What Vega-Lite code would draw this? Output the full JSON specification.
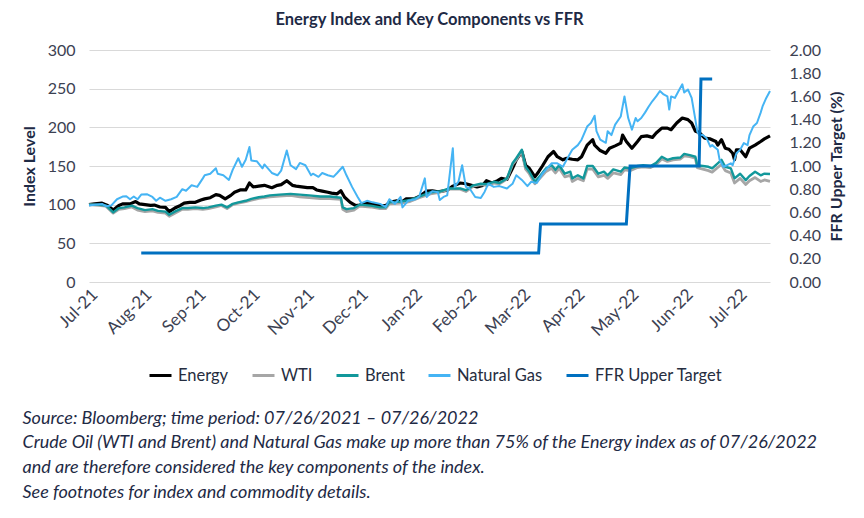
{
"$schema": "https://vega.github.io/schema/vega-lite/v6.json",
"width": 681, "height": 232,
"autosize": {"type": "none"},
"padding": {"left": 89, "top": 50, "right": 94, "bottom": 236},
"background": "white",
"config": {"font": "Lato", "view": {"stroke": null}},
"title": {"text": "Energy Index and Key Components  vs FFR", "font": "Lato", "fontSize": 16.5, "fontWeight": "bold", "color": "#1e2a45", "anchor": "middle", "frame": "group", "baseline": "bottom", "offset": -2},
"datasets": {
"index": [
{"date":"2021-07-26","series":"Energy","value":100},{"date":"2021-07-29","series":"Energy","value":101},{"date":"2021-08-02","series":"Energy","value":102},{"date":"2021-08-05","series":"Energy","value":99},{"date":"2021-08-08","series":"Energy","value":93},{"date":"2021-08-11","series":"Energy","value":99},{"date":"2021-08-13","series":"Energy","value":101},{"date":"2021-08-17","series":"Energy","value":101},{"date":"2021-08-20","series":"Energy","value":104},{"date":"2021-08-22","series":"Energy","value":101},{"date":"2021-08-25","series":"Energy","value":100},{"date":"2021-08-28","series":"Energy","value":99},{"date":"2021-08-30","series":"Energy","value":99.5},{"date":"2021-09-02","series":"Energy","value":97},{"date":"2021-09-05","series":"Energy","value":96.5},{"date":"2021-09-07","series":"Energy","value":91},{"date":"2021-09-10","series":"Energy","value":95.6},{"date":"2021-09-13","series":"Energy","value":99},{"date":"2021-09-15","series":"Energy","value":102},{"date":"2021-09-18","series":"Energy","value":103},{"date":"2021-09-21","series":"Energy","value":103},{"date":"2021-09-24","series":"Energy","value":106},{"date":"2021-09-26","series":"Energy","value":107.5},{"date":"2021-09-29","series":"Energy","value":109},{"date":"2021-10-02","series":"Energy","value":113},{"date":"2021-10-04","series":"Energy","value":112},{"date":"2021-10-07","series":"Energy","value":107.5},{"date":"2021-10-10","series":"Energy","value":112},{"date":"2021-10-12","series":"Energy","value":116},{"date":"2021-10-15","series":"Energy","value":119},{"date":"2021-10-18","series":"Energy","value":119},{"date":"2021-10-20","series":"Energy","value":128},{"date":"2021-10-22","series":"Energy","value":123},{"date":"2021-10-25","series":"Energy","value":124},{"date":"2021-10-28","series":"Energy","value":125},{"date":"2021-11-01","series":"Energy","value":122},{"date":"2021-11-04","series":"Energy","value":125},{"date":"2021-11-06","series":"Energy","value":126},{"date":"2021-11-09","series":"Energy","value":131},{"date":"2021-11-12","series":"Energy","value":125},{"date":"2021-11-14","series":"Energy","value":124},{"date":"2021-11-17","series":"Energy","value":123},{"date":"2021-11-20","series":"Energy","value":122},{"date":"2021-11-23","series":"Energy","value":122},{"date":"2021-11-25","series":"Energy","value":119},{"date":"2021-11-28","series":"Energy","value":117.5},{"date":"2021-12-01","series":"Energy","value":116},{"date":"2021-12-03","series":"Energy","value":115},{"date":"2021-12-06","series":"Energy","value":114},{"date":"2021-12-08","series":"Energy","value":118},{"date":"2021-12-10","series":"Energy","value":109.6},{"date":"2021-12-13","series":"Energy","value":103},{"date":"2021-12-16","series":"Energy","value":98.7},{"date":"2021-12-18","series":"Energy","value":99.5},{"date":"2021-12-22","series":"Energy","value":101.8},{"date":"2021-12-25","series":"Energy","value":101},{"date":"2021-12-29","series":"Energy","value":98.7},{"date":"2022-01-01","series":"Energy","value":98.7},{"date":"2022-01-03","series":"Energy","value":103},{"date":"2022-01-07","series":"Energy","value":105},{"date":"2022-01-10","series":"Energy","value":104},{"date":"2022-01-12","series":"Energy","value":107.5},{"date":"2022-01-16","series":"Energy","value":107.5},{"date":"2022-01-19","series":"Energy","value":110.5},{"date":"2022-01-23","series":"Energy","value":117.5},{"date":"2022-01-26","series":"Energy","value":118},{"date":"2022-01-29","series":"Energy","value":116.5},{"date":"2022-02-03","series":"Energy","value":118.7},{"date":"2022-02-06","series":"Energy","value":124},{"date":"2022-02-10","series":"Energy","value":128},{"date":"2022-02-13","series":"Energy","value":127},{"date":"2022-02-16","series":"Energy","value":125},{"date":"2022-02-19","series":"Energy","value":123},{"date":"2022-02-22","series":"Energy","value":125},{"date":"2022-02-24","series":"Energy","value":131},{"date":"2022-02-27","series":"Energy","value":128},{"date":"2022-03-02","series":"Energy","value":131},{"date":"2022-03-04","series":"Energy","value":134},{"date":"2022-03-07","series":"Energy","value":132.6},{"date":"2022-03-10","series":"Energy","value":147},{"date":"2022-03-12","series":"Energy","value":158},{"date":"2022-03-15","series":"Energy","value":168.7},{"date":"2022-03-17","series":"Energy","value":151},{"date":"2022-03-19","series":"Energy","value":147},{"date":"2022-03-22","series":"Energy","value":136},{"date":"2022-03-24","series":"Energy","value":142.6},{"date":"2022-03-26","series":"Energy","value":150},{"date":"2022-03-29","series":"Energy","value":162},{"date":"2022-04-01","series":"Energy","value":168.7},{"date":"2022-04-03","series":"Energy","value":162},{"date":"2022-04-06","series":"Energy","value":158},{"date":"2022-04-08","series":"Energy","value":160},{"date":"2022-04-11","series":"Energy","value":158.7},{"date":"2022-04-14","series":"Energy","value":158},{"date":"2022-04-16","series":"Energy","value":162},{"date":"2022-04-19","series":"Energy","value":177},{"date":"2022-04-22","series":"Energy","value":184},{"date":"2022-04-23","series":"Energy","value":177},{"date":"2022-04-26","series":"Energy","value":170},{"date":"2022-04-29","series":"Energy","value":166.5},{"date":"2022-05-01","series":"Energy","value":173},{"date":"2022-05-04","series":"Energy","value":176},{"date":"2022-05-07","series":"Energy","value":179.6},{"date":"2022-05-08","series":"Energy","value":190},{"date":"2022-05-10","series":"Energy","value":181.7},{"date":"2022-05-13","series":"Energy","value":173},{"date":"2022-05-16","series":"Energy","value":181.7},{"date":"2022-05-18","series":"Energy","value":188},{"date":"2022-05-21","series":"Energy","value":189},{"date":"2022-05-24","series":"Energy","value":187},{"date":"2022-05-26","series":"Energy","value":192.6},{"date":"2022-05-29","series":"Energy","value":199},{"date":"2022-06-01","series":"Energy","value":199},{"date":"2022-06-03","series":"Energy","value":197},{"date":"2022-06-06","series":"Energy","value":205.6},{"date":"2022-06-09","series":"Energy","value":212},{"date":"2022-06-12","series":"Energy","value":210},{"date":"2022-06-14","series":"Energy","value":205.6},{"date":"2022-06-16","series":"Energy","value":195},{"date":"2022-06-18","series":"Energy","value":193.5},{"date":"2022-06-21","series":"Energy","value":186},{"date":"2022-06-24","series":"Energy","value":185},{"date":"2022-06-27","series":"Energy","value":181.7},{"date":"2022-06-28","series":"Energy","value":177},{"date":"2022-06-30","series":"Energy","value":184},{"date":"2022-07-02","series":"Energy","value":173},{"date":"2022-07-04","series":"Energy","value":171.7},{"date":"2022-07-06","series":"Energy","value":166.5},{"date":"2022-07-07","series":"Energy","value":158},{"date":"2022-07-08","series":"Energy","value":171},{"date":"2022-07-10","series":"Energy","value":171},{"date":"2022-07-13","series":"Energy","value":162},{"date":"2022-07-15","series":"Energy","value":173},{"date":"2022-07-18","series":"Energy","value":177},{"date":"2022-07-21","series":"Energy","value":181.7},{"date":"2022-07-23","series":"Energy","value":185},{"date":"2022-07-26","series":"Energy","value":189},
{"date":"2021-07-26","series":"WTI","value":100},{"date":"2021-07-31","series":"WTI","value":99},{"date":"2021-08-04","series":"WTI","value":98},{"date":"2021-08-08","series":"WTI","value":89},{"date":"2021-08-11","series":"WTI","value":94},{"date":"2021-08-14","series":"WTI","value":95},{"date":"2021-08-18","series":"WTI","value":97},{"date":"2021-08-21","series":"WTI","value":93},{"date":"2021-08-25","series":"WTI","value":91},{"date":"2021-08-29","series":"WTI","value":92},{"date":"2021-09-01","series":"WTI","value":90},{"date":"2021-09-05","series":"WTI","value":89},{"date":"2021-09-07","series":"WTI","value":85},{"date":"2021-09-10","series":"WTI","value":89},{"date":"2021-09-14","series":"WTI","value":94},{"date":"2021-09-17","series":"WTI","value":94},{"date":"2021-09-21","series":"WTI","value":95},{"date":"2021-09-25","series":"WTI","value":94},{"date":"2021-09-28","series":"WTI","value":95},{"date":"2021-10-02","series":"WTI","value":97},{"date":"2021-10-05","series":"WTI","value":99},{"date":"2021-10-08","series":"WTI","value":95},{"date":"2021-10-11","series":"WTI","value":100},{"date":"2021-10-14","series":"WTI","value":102},{"date":"2021-10-18","series":"WTI","value":104},{"date":"2021-10-21","series":"WTI","value":106},{"date":"2021-10-25","series":"WTI","value":108},{"date":"2021-10-28","series":"WTI","value":109},{"date":"2021-10-31","series":"WTI","value":110},{"date":"2021-11-05","series":"WTI","value":111},{"date":"2021-11-11","series":"WTI","value":112},{"date":"2021-11-16","series":"WTI","value":110},{"date":"2021-11-21","series":"WTI","value":109},{"date":"2021-11-27","series":"WTI","value":108},{"date":"2021-12-02","series":"WTI","value":108},{"date":"2021-12-08","series":"WTI","value":107},{"date":"2021-12-09","series":"WTI","value":94},{"date":"2021-12-11","series":"WTI","value":91},{"date":"2021-12-15","series":"WTI","value":93},{"date":"2021-12-18","series":"WTI","value":98},{"date":"2021-12-24","series":"WTI","value":97},{"date":"2021-12-29","series":"WTI","value":95},{"date":"2022-01-01","series":"WTI","value":95},{"date":"2022-01-03","series":"WTI","value":101},{"date":"2022-01-09","series":"WTI","value":102},{"date":"2022-01-14","series":"WTI","value":104},{"date":"2022-01-19","series":"WTI","value":109},{"date":"2022-01-25","series":"WTI","value":114},{"date":"2022-01-30","series":"WTI","value":116},{"date":"2022-02-04","series":"WTI","value":120},{"date":"2022-02-10","series":"WTI","value":120},{"date":"2022-02-13","series":"WTI","value":117},{"date":"2022-02-17","series":"WTI","value":124},{"date":"2022-02-21","series":"WTI","value":126},{"date":"2022-02-24","series":"WTI","value":125},{"date":"2022-02-28","series":"WTI","value":128},{"date":"2022-03-03","series":"WTI","value":127},{"date":"2022-03-07","series":"WTI","value":133},{"date":"2022-03-10","series":"WTI","value":152},{"date":"2022-03-12","series":"WTI","value":158},{"date":"2022-03-15","series":"WTI","value":169},{"date":"2022-03-17","series":"WTI","value":146},{"date":"2022-03-19","series":"WTI","value":140},{"date":"2022-03-22","series":"WTI","value":127},{"date":"2022-03-25","series":"WTI","value":135},{"date":"2022-03-28","series":"WTI","value":143},{"date":"2022-03-31","series":"WTI","value":147},{"date":"2022-04-02","series":"WTI","value":141},{"date":"2022-04-04","series":"WTI","value":147},{"date":"2022-04-07","series":"WTI","value":136},{"date":"2022-04-10","series":"WTI","value":138},{"date":"2022-04-11","series":"WTI","value":130},{"date":"2022-04-14","series":"WTI","value":134},{"date":"2022-04-17","series":"WTI","value":131},{"date":"2022-04-19","series":"WTI","value":146},{"date":"2022-04-22","series":"WTI","value":146},{"date":"2022-04-25","series":"WTI","value":136},{"date":"2022-04-28","series":"WTI","value":138},{"date":"2022-04-30","series":"WTI","value":134},{"date":"2022-05-03","series":"WTI","value":141},{"date":"2022-05-07","series":"WTI","value":139},{"date":"2022-05-09","series":"WTI","value":145},{"date":"2022-05-12","series":"WTI","value":144},{"date":"2022-05-16","series":"WTI","value":148},{"date":"2022-05-19","series":"WTI","value":149},{"date":"2022-05-23","series":"WTI","value":148},{"date":"2022-05-26","series":"WTI","value":152},{"date":"2022-05-29","series":"WTI","value":159},{"date":"2022-06-01","series":"WTI","value":156},{"date":"2022-06-04","series":"WTI","value":158},{"date":"2022-06-08","series":"WTI","value":159},{"date":"2022-06-10","series":"WTI","value":163},{"date":"2022-06-13","series":"WTI","value":162},{"date":"2022-06-16","series":"WTI","value":160},{"date":"2022-06-17","series":"WTI","value":148},{"date":"2022-06-20","series":"WTI","value":146},{"date":"2022-06-23","series":"WTI","value":144},{"date":"2022-06-25","series":"WTI","value":142},{"date":"2022-06-28","series":"WTI","value":148},{"date":"2022-06-30","series":"WTI","value":152},{"date":"2022-07-02","series":"WTI","value":144},{"date":"2022-07-05","series":"WTI","value":141},{"date":"2022-07-07","series":"WTI","value":128},{"date":"2022-07-10","series":"WTI","value":134},{"date":"2022-07-13","series":"WTI","value":126},{"date":"2022-07-15","series":"WTI","value":131},{"date":"2022-07-18","series":"WTI","value":135},{"date":"2022-07-21","series":"WTI","value":130},{"date":"2022-07-23","series":"WTI","value":132},{"date":"2022-07-26","series":"WTI","value":130},
{"date":"2021-07-26","series":"Brent","value":100},{"date":"2021-07-31","series":"Brent","value":100},{"date":"2021-08-04","series":"Brent","value":99},{"date":"2021-08-08","series":"Brent","value":90},{"date":"2021-08-11","series":"Brent","value":95.6},{"date":"2021-08-14","series":"Brent","value":96.5},{"date":"2021-08-18","series":"Brent","value":98.7},{"date":"2021-08-21","series":"Brent","value":95.6},{"date":"2021-08-25","series":"Brent","value":93},{"date":"2021-08-29","series":"Brent","value":94.3},{"date":"2021-09-01","series":"Brent","value":92},{"date":"2021-09-05","series":"Brent","value":91},{"date":"2021-09-07","series":"Brent","value":87},{"date":"2021-09-10","series":"Brent","value":91},{"date":"2021-09-14","series":"Brent","value":95.6},{"date":"2021-09-17","series":"Brent","value":95.6},{"date":"2021-09-21","series":"Brent","value":96.5},{"date":"2021-09-25","series":"Brent","value":95.6},{"date":"2021-09-28","series":"Brent","value":96.5},{"date":"2021-10-02","series":"Brent","value":98.7},{"date":"2021-10-05","series":"Brent","value":100},{"date":"2021-10-08","series":"Brent","value":96.5},{"date":"2021-10-11","series":"Brent","value":101},{"date":"2021-10-14","series":"Brent","value":103},{"date":"2021-10-18","series":"Brent","value":105},{"date":"2021-10-21","series":"Brent","value":107.5},{"date":"2021-10-25","series":"Brent","value":109.6},{"date":"2021-10-28","series":"Brent","value":110.5},{"date":"2021-10-31","series":"Brent","value":112},{"date":"2021-11-05","series":"Brent","value":113},{"date":"2021-11-11","series":"Brent","value":114},{"date":"2021-11-16","series":"Brent","value":113},{"date":"2021-11-21","series":"Brent","value":112},{"date":"2021-11-27","series":"Brent","value":110.5},{"date":"2021-12-02","series":"Brent","value":110.5},{"date":"2021-12-08","series":"Brent","value":109},{"date":"2021-12-09","series":"Brent","value":96.5},{"date":"2021-12-11","series":"Brent","value":94.3},{"date":"2021-12-15","series":"Brent","value":95.6},{"date":"2021-12-18","series":"Brent","value":100},{"date":"2021-12-24","series":"Brent","value":98.7},{"date":"2021-12-29","series":"Brent","value":96.5},{"date":"2022-01-01","series":"Brent","value":96.5},{"date":"2022-01-03","series":"Brent","value":103},{"date":"2022-01-09","series":"Brent","value":104},{"date":"2022-01-14","series":"Brent","value":106},{"date":"2022-01-19","series":"Brent","value":110.5},{"date":"2022-01-25","series":"Brent","value":116},{"date":"2022-01-30","series":"Brent","value":117},{"date":"2022-02-04","series":"Brent","value":121},{"date":"2022-02-10","series":"Brent","value":121},{"date":"2022-02-13","series":"Brent","value":118.7},{"date":"2022-02-17","series":"Brent","value":125},{"date":"2022-02-21","series":"Brent","value":127},{"date":"2022-02-24","series":"Brent","value":126.5},{"date":"2022-02-28","series":"Brent","value":129.6},{"date":"2022-03-03","series":"Brent","value":128},{"date":"2022-03-07","series":"Brent","value":134},{"date":"2022-03-10","series":"Brent","value":153.5},{"date":"2022-03-12","series":"Brent","value":160},{"date":"2022-03-15","series":"Brent","value":171},{"date":"2022-03-17","series":"Brent","value":149},{"date":"2022-03-19","series":"Brent","value":142.6},{"date":"2022-03-22","series":"Brent","value":129.6},{"date":"2022-03-25","series":"Brent","value":138},{"date":"2022-03-28","series":"Brent","value":147},{"date":"2022-03-31","series":"Brent","value":151},{"date":"2022-04-02","series":"Brent","value":145},{"date":"2022-04-04","series":"Brent","value":151},{"date":"2022-04-07","series":"Brent","value":140},{"date":"2022-04-10","series":"Brent","value":142.6},{"date":"2022-04-11","series":"Brent","value":134},{"date":"2022-04-14","series":"Brent","value":138},{"date":"2022-04-17","series":"Brent","value":134},{"date":"2022-04-19","series":"Brent","value":150},{"date":"2022-04-22","series":"Brent","value":150},{"date":"2022-04-25","series":"Brent","value":140},{"date":"2022-04-28","series":"Brent","value":142.6},{"date":"2022-04-30","series":"Brent","value":138},{"date":"2022-05-03","series":"Brent","value":145.6},{"date":"2022-05-07","series":"Brent","value":142.6},{"date":"2022-05-09","series":"Brent","value":148},{"date":"2022-05-12","series":"Brent","value":147},{"date":"2022-05-16","series":"Brent","value":150},{"date":"2022-05-19","series":"Brent","value":151},{"date":"2022-05-23","series":"Brent","value":150},{"date":"2022-05-26","series":"Brent","value":154},{"date":"2022-05-29","series":"Brent","value":162},{"date":"2022-06-01","series":"Brent","value":158},{"date":"2022-06-04","series":"Brent","value":160},{"date":"2022-06-08","series":"Brent","value":161},{"date":"2022-06-10","series":"Brent","value":165.7},{"date":"2022-06-13","series":"Brent","value":164},{"date":"2022-06-16","series":"Brent","value":162},{"date":"2022-06-17","series":"Brent","value":151},{"date":"2022-06-20","series":"Brent","value":150},{"date":"2022-06-23","series":"Brent","value":149},{"date":"2022-06-25","series":"Brent","value":147},{"date":"2022-06-28","series":"Brent","value":153.5},{"date":"2022-06-30","series":"Brent","value":158},{"date":"2022-07-02","series":"Brent","value":149},{"date":"2022-07-05","series":"Brent","value":147},{"date":"2022-07-07","series":"Brent","value":134},{"date":"2022-07-10","series":"Brent","value":140},{"date":"2022-07-13","series":"Brent","value":131.7},{"date":"2022-07-15","series":"Brent","value":137},{"date":"2022-07-18","series":"Brent","value":142.6},{"date":"2022-07-21","series":"Brent","value":138},{"date":"2022-07-23","series":"Brent","value":140},{"date":"2022-07-26","series":"Brent","value":139.6},
{"date":"2021-07-26","series":"Natural Gas","value":99},{"date":"2021-07-29","series":"Natural Gas","value":100},{"date":"2021-08-02","series":"Natural Gas","value":101},{"date":"2021-08-04","series":"Natural Gas","value":98},{"date":"2021-08-07","series":"Natural Gas","value":99},{"date":"2021-08-10","series":"Natural Gas","value":107},{"date":"2021-08-13","series":"Natural Gas","value":110.5},{"date":"2021-08-15","series":"Natural Gas","value":111},{"date":"2021-08-17","series":"Natural Gas","value":107},{"date":"2021-08-19","series":"Natural Gas","value":110.5},{"date":"2021-08-21","series":"Natural Gas","value":107},{"date":"2021-08-23","series":"Natural Gas","value":113},{"date":"2021-08-26","series":"Natural Gas","value":113.6},{"date":"2021-08-29","series":"Natural Gas","value":110},{"date":"2021-08-31","series":"Natural Gas","value":105},{"date":"2021-09-02","series":"Natural Gas","value":109},{"date":"2021-09-05","series":"Natural Gas","value":105},{"date":"2021-09-08","series":"Natural Gas","value":107},{"date":"2021-09-11","series":"Natural Gas","value":110},{"date":"2021-09-14","series":"Natural Gas","value":120},{"date":"2021-09-16","series":"Natural Gas","value":118},{"date":"2021-09-19","series":"Natural Gas","value":125},{"date":"2021-09-22","series":"Natural Gas","value":123},{"date":"2021-09-25","series":"Natural Gas","value":134},{"date":"2021-09-26","series":"Natural Gas","value":138},{"date":"2021-09-29","series":"Natural Gas","value":140},{"date":"2021-10-02","series":"Natural Gas","value":147},{"date":"2021-10-03","series":"Natural Gas","value":140},{"date":"2021-10-06","series":"Natural Gas","value":138},{"date":"2021-10-09","series":"Natural Gas","value":132},{"date":"2021-10-11","series":"Natural Gas","value":145},{"date":"2021-10-14","series":"Natural Gas","value":160},{"date":"2021-10-16","series":"Natural Gas","value":149},{"date":"2021-10-18","series":"Natural Gas","value":158},{"date":"2021-10-20","series":"Natural Gas","value":174.5},{"date":"2021-10-21","series":"Natural Gas","value":157},{"date":"2021-10-24","series":"Natural Gas","value":156},{"date":"2021-10-27","series":"Natural Gas","value":147},{"date":"2021-10-28","series":"Natural Gas","value":152},{"date":"2021-11-01","series":"Natural Gas","value":141},{"date":"2021-11-04","series":"Natural Gas","value":138},{"date":"2021-11-06","series":"Natural Gas","value":144},{"date":"2021-11-09","series":"Natural Gas","value":170},{"date":"2021-11-11","series":"Natural Gas","value":151},{"date":"2021-11-14","series":"Natural Gas","value":146},{"date":"2021-11-16","series":"Natural Gas","value":154},{"date":"2021-11-19","series":"Natural Gas","value":151},{"date":"2021-11-22","series":"Natural Gas","value":138},{"date":"2021-11-23","series":"Natural Gas","value":140},{"date":"2021-11-26","series":"Natural Gas","value":136},{"date":"2021-11-28","series":"Natural Gas","value":141},{"date":"2021-12-01","series":"Natural Gas","value":138},{"date":"2021-12-04","series":"Natural Gas","value":136},{"date":"2021-12-06","series":"Natural Gas","value":141},{"date":"2021-12-09","series":"Natural Gas","value":149},{"date":"2021-12-11","series":"Natural Gas","value":138},{"date":"2021-12-14","series":"Natural Gas","value":123},{"date":"2021-12-17","series":"Natural Gas","value":110},{"date":"2021-12-19","series":"Natural Gas","value":102},{"date":"2021-12-22","series":"Natural Gas","value":105},{"date":"2021-12-25","series":"Natural Gas","value":103},{"date":"2021-12-29","series":"Natural Gas","value":101},{"date":"2022-01-01","series":"Natural Gas","value":97},{"date":"2022-01-03","series":"Natural Gas","value":107},{"date":"2022-01-06","series":"Natural Gas","value":101},{"date":"2022-01-09","series":"Natural Gas","value":110},{"date":"2022-01-10","series":"Natural Gas","value":96.5},{"date":"2022-01-13","series":"Natural Gas","value":105},{"date":"2022-01-17","series":"Natural Gas","value":107},{"date":"2022-01-19","series":"Natural Gas","value":110.5},{"date":"2022-01-22","series":"Natural Gas","value":134},{"date":"2022-01-23","series":"Natural Gas","value":110},{"date":"2022-01-26","series":"Natural Gas","value":117.5},{"date":"2022-01-29","series":"Natural Gas","value":116},{"date":"2022-01-30","series":"Natural Gas","value":106},{"date":"2022-02-01","series":"Natural Gas","value":110},{"date":"2022-02-03","series":"Natural Gas","value":112},{"date":"2022-02-06","series":"Natural Gas","value":173},{"date":"2022-02-07","series":"Natural Gas","value":123},{"date":"2022-02-09","series":"Natural Gas","value":129.6},{"date":"2022-02-11","series":"Natural Gas","value":151},{"date":"2022-02-13","series":"Natural Gas","value":123},{"date":"2022-02-15","series":"Natural Gas","value":121},{"date":"2022-02-18","series":"Natural Gas","value":110},{"date":"2022-02-21","series":"Natural Gas","value":108.7},{"date":"2022-02-23","series":"Natural Gas","value":116.5},{"date":"2022-02-25","series":"Natural Gas","value":127},{"date":"2022-02-28","series":"Natural Gas","value":123},{"date":"2022-03-03","series":"Natural Gas","value":124},{"date":"2022-03-07","series":"Natural Gas","value":121},{"date":"2022-03-10","series":"Natural Gas","value":127},{"date":"2022-03-12","series":"Natural Gas","value":138},{"date":"2022-03-15","series":"Natural Gas","value":132},{"date":"2022-03-18","series":"Natural Gas","value":124},{"date":"2022-03-20","series":"Natural Gas","value":129.6},{"date":"2022-03-23","series":"Natural Gas","value":128},{"date":"2022-03-26","series":"Natural Gas","value":140},{"date":"2022-03-28","series":"Natural Gas","value":145.6},{"date":"2022-03-31","series":"Natural Gas","value":153.5},{"date":"2022-04-03","series":"Natural Gas","value":153.5},{"date":"2022-04-06","series":"Natural Gas","value":149},{"date":"2022-04-08","series":"Natural Gas","value":158},{"date":"2022-04-11","series":"Natural Gas","value":171},{"date":"2022-04-14","series":"Natural Gas","value":177},{"date":"2022-04-16","series":"Natural Gas","value":184},{"date":"2022-04-19","series":"Natural Gas","value":201},{"date":"2022-04-21","series":"Natural Gas","value":205.6},{"date":"2022-04-23","series":"Natural Gas","value":215},{"date":"2022-04-24","series":"Natural Gas","value":195},{"date":"2022-04-26","series":"Natural Gas","value":184},{"date":"2022-04-29","series":"Natural Gas","value":180},{"date":"2022-04-30","series":"Natural Gas","value":195},{"date":"2022-05-02","series":"Natural Gas","value":190},{"date":"2022-05-04","series":"Natural Gas","value":203.5},{"date":"2022-05-07","series":"Natural Gas","value":214},{"date":"2022-05-09","series":"Natural Gas","value":240},{"date":"2022-05-11","series":"Natural Gas","value":212},{"date":"2022-05-13","series":"Natural Gas","value":197},{"date":"2022-05-15","series":"Natural Gas","value":212},{"date":"2022-05-16","series":"Natural Gas","value":208},{"date":"2022-05-18","series":"Natural Gas","value":212},{"date":"2022-05-20","series":"Natural Gas","value":219},{"date":"2022-05-22","series":"Natural Gas","value":227},{"date":"2022-05-24","series":"Natural Gas","value":234},{"date":"2022-05-26","series":"Natural Gas","value":240},{"date":"2022-05-28","series":"Natural Gas","value":247},{"date":"2022-05-30","series":"Natural Gas","value":242.6},{"date":"2022-06-01","series":"Natural Gas","value":240},{"date":"2022-06-02","series":"Natural Gas","value":223},{"date":"2022-06-03","series":"Natural Gas","value":240},{"date":"2022-06-05","series":"Natural Gas","value":238},{"date":"2022-06-07","series":"Natural Gas","value":247},{"date":"2022-06-09","series":"Natural Gas","value":255.6},{"date":"2022-06-10","series":"Natural Gas","value":245},{"date":"2022-06-12","series":"Natural Gas","value":249},{"date":"2022-06-14","series":"Natural Gas","value":238},{"date":"2022-06-16","series":"Natural Gas","value":210},{"date":"2022-06-17","series":"Natural Gas","value":195},{"date":"2022-06-18","series":"Natural Gas","value":190},{"date":"2022-06-20","series":"Natural Gas","value":190},{"date":"2022-06-22","series":"Natural Gas","value":186},{"date":"2022-06-24","series":"Natural Gas","value":175},{"date":"2022-06-25","series":"Natural Gas","value":177},{"date":"2022-06-28","series":"Natural Gas","value":171},{"date":"2022-06-29","series":"Natural Gas","value":158},{"date":"2022-07-01","series":"Natural Gas","value":149},{"date":"2022-07-03","series":"Natural Gas","value":151},{"date":"2022-07-05","series":"Natural Gas","value":153.5},{"date":"2022-07-06","series":"Natural Gas","value":151},{"date":"2022-07-08","series":"Natural Gas","value":166.5},{"date":"2022-07-10","series":"Natural Gas","value":171},{"date":"2022-07-12","series":"Natural Gas","value":179.6},{"date":"2022-07-14","series":"Natural Gas","value":177},{"date":"2022-07-15","series":"Natural Gas","value":190},{"date":"2022-07-17","series":"Natural Gas","value":201},{"date":"2022-07-19","series":"Natural Gas","value":205.6},{"date":"2022-07-21","series":"Natural Gas","value":219},{"date":"2022-07-22","series":"Natural Gas","value":227},{"date":"2022-07-24","series":"Natural Gas","value":238},{"date":"2022-07-26","series":"Natural Gas","value":247}
],
"ffr": [
{"date":"2021-08-23","series":"FFR Upper Target","rate":0.25},{"date":"2022-03-24","series":"FFR Upper Target","rate":0.25},{"date":"2022-03-25","series":"FFR Upper Target","rate":0.5},{"date":"2022-05-10","series":"FFR Upper Target","rate":0.5},{"date":"2022-05-12","series":"FFR Upper Target","rate":1.0},{"date":"2022-06-18","series":"FFR Upper Target","rate":1.0},{"date":"2022-06-19","series":"FFR Upper Target","rate":1.75},{"date":"2022-06-25","series":"FFR Upper Target","rate":1.75}
]
},
"encoding": {
"x": {"field": "date", "type": "temporal",
 "scale": {"type": "utc", "domain": [{"year": 2021, "month": 7, "date": 26, "utc": true}, {"year": 2022, "month": 7, "date": 26, "utc": true}]},
 "axis": {
  "values": [{"year":2021,"month":7,"date":26,"utc":true},{"year":2021,"month":8,"date":24,"utc":true},{"year":2021,"month":9,"date":22,"utc":true},{"year":2021,"month":10,"date":21,"utc":true},{"year":2021,"month":11,"date":19,"utc":true},{"year":2021,"month":12,"date":18,"utc":true},{"year":2022,"month":1,"date":16,"utc":true},{"year":2022,"month":2,"date":14,"utc":true},{"year":2022,"month":3,"date":15,"utc":true},{"year":2022,"month":4,"date":13,"utc":true},{"year":2022,"month":5,"date":12,"utc":true},{"year":2022,"month":6,"date":10,"utc":true},{"year":2022,"month":7,"date":9,"utc":true}],
  "format": "%b-%y",
  "labelAngle": -45, "labelAlign": "right", "labelBaseline": "top",
  "labelFont": "Lato", "labelFontSize": 17, "labelColor": "#3c4152", "labelPadding": 4,
  "labelOverlap": false, "labelFlush": false, "labelBound": false,
  "grid": false, "domain": false, "ticks": false,
  "title": ["Source: Bloomberg; time period: 07/26/2021 – 07/26/2022", "Crude Oil (WTI and Brent) and Natural Gas make up more than 75% of the Energy index as of 07/26/2022", "and are therefore considered the key components of the index.", "See footnotes for index and commodity details."],
  "titleX": -67, "titleY": 127, "titleAlign": "left", "titleAnchor": "start", "titleBaseline": "top", "titleAngle": 0,
  "titleFont": "Lato", "titleFontSize": 18, "titleFontStyle": "italic", "titleFontWeight": "normal", "titleColor": "#1e2a45", "titleLineHeight": 24.7
 }
}
},
"layer": [
{
"data": {"name": "index"},
"mark": {"type": "line", "strokeJoin": "round"},
"encoding": {
 "y": {"field": "value", "type": "quantitative", "scale": {"domain": [0, 300], "nice": false, "zero": true},
  "axis": {"values": [0, 50, 100, 150, 200, 250, 300], "title": "Index Level", "titleFont": "Lato", "titleFontSize": 16, "titleFontWeight": "bold", "titleColor": "#1e2a45", "titlePadding": 10,
   "labelFont": "Lato", "labelFontSize": 16, "labelColor": "#3c4152", "labelPadding": 14, "grid": true, "gridColor": "#d9d9d9", "gridWidth": 1, "domain": false, "ticks": false}},
 "color": {"field": "series", "type": "nominal",
  "scale": {"domain": ["Energy", "WTI", "Brent", "Natural Gas", "FFR Upper Target"], "range": ["#000000", "#a6a6a6", "#12989b", "#45b4f4", "#0070c0"]},
  "legend": {"orient": "none", "legendX": 59, "legendY": 313, "direction": "horizontal", "title": null, "symbolType": "stroke", "symbolSize": 484, "symbolStrokeWidth": 3, "labelFont": "Lato", "labelFontSize": 16.5, "labelColor": "#262d40", "columnPadding": 17, "labelOffset": 5}},
 "strokeWidth": {"field": "series", "type": "nominal", "scale": {"domain": ["Energy", "WTI", "Brent", "Natural Gas"], "range": [3.2, 2, 2, 2]}, "legend": null}
}
},
{
"data": {"name": "ffr"},
"mark": {"type": "line", "strokeWidth": 3},
"encoding": {
 "y": {"field": "rate", "type": "quantitative", "scale": {"domain": [0, 2], "nice": false},
  "axis": {"orient": "right", "values": [0, 0.2, 0.4, 0.6, 0.8, 1.0, 1.2, 1.4, 1.6, 1.8, 2.0], "format": ".2f", "title": "FFR Upper Target (%)", "titleAngle": 270, "titleBaseline": "top", "titleFont": "Lato", "titleFontSize": 16, "titleFontWeight": "bold", "titleColor": "#1e2a45", "titlePadding": 8,
   "labelFont": "Lato", "labelFontSize": 16, "labelColor": "#3c4152", "labelPadding": 19, "grid": false, "domain": false, "ticks": false}},
 "color": {"field": "series", "type": "nominal",
  "scale": {"domain": ["Energy", "WTI", "Brent", "Natural Gas", "FFR Upper Target"], "range": ["#000000", "#a6a6a6", "#12989b", "#45b4f4", "#0070c0"]}}
}
}
],
"resolve": {"scale": {"y": "independent"}}
}
